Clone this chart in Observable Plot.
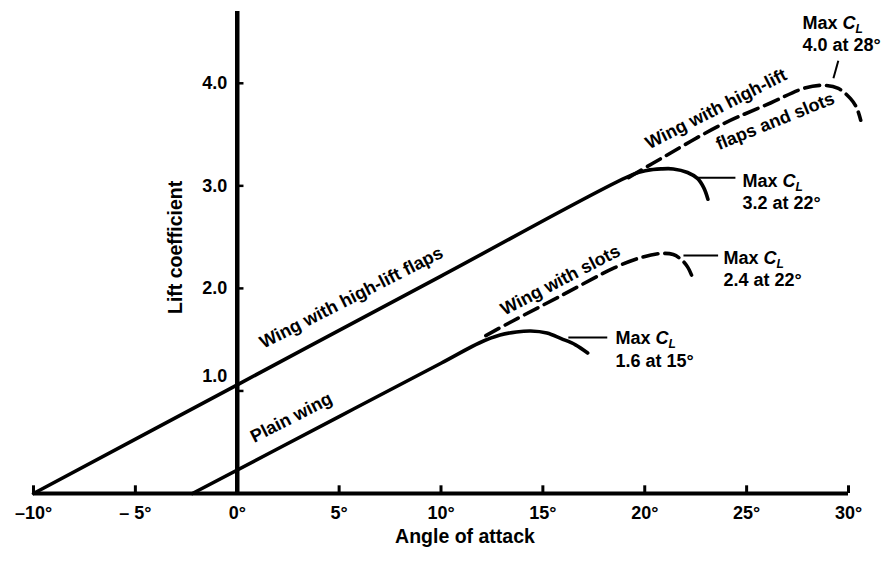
<!DOCTYPE html>
<html>
<head>
<meta charset="utf-8">
<script src="https://cdn.jsdelivr.net/npm/d3@7"></script>
<script src="https://cdn.jsdelivr.net/npm/@observablehq/plot@0.6"></script>
<style>
  html, body { margin: 0; padding: 0; background: #fff; }
  #chart svg { display: block; }
</style>
</head>
<body>
<div id="chart"></div>
<script>
// ---- Axis ticks ----
const xTicks = [-10, -5, 0, 5, 10, 15, 20, 25, 30];
const xTickLabels = ["–10°", "– 5°", "0°", "5°", "10°", "15°", "20°", "25°", "30°"];
const yTicks = [1, 2, 3, 4];
const yTickLabels = ["1.0", "2.0", "3.0", "4.0"];

// ---- Series (angle of attack in degrees, lift coefficient) ----
const plainAlpha = [-2.2, 5, 10, 11.9, 12.9, 13.7, 14.4, 15.2, 15.9, 16.6, 17.2];
const plainCL    = [0, 0.75, 1.27, 1.47, 1.545, 1.575, 1.585, 1.565, 1.51, 1.45, 1.37];

const flapsAlpha = [-10, 0, 10, 19.4, 20.1, 20.8, 21.4, 22.1, 22.6, 22.9, 23.1];
const flapsCL    = [0, 1.06, 2.12, 3.11, 3.15, 3.165, 3.165, 3.13, 3.07, 2.98, 2.87];

const slotsAlpha = [12.2, 13.5, 16.0, 18.5, 19.8, 20.8, 21.4, 21.8, 22.1, 22.4];
const slotsCL    = [1.54, 1.68, 1.94, 2.20, 2.30, 2.34, 2.33, 2.28, 2.21, 2.08];

const flapsSlotsAlpha = [19.2, 20.4, 23.7, 26.2, 27.8, 28.8, 29.5, 30.1, 30.4, 30.6];
const flapsSlotsCL    = [3.08, 3.22, 3.59, 3.81, 3.95, 3.98, 3.95, 3.85, 3.76, 3.64];

// ---- Curve labels ----
const curveLabels = ["Wing with high-lift flaps", "Plain wing", "Wing with slots", "Wing with high-lift", "flaps and slots"];
const curveLabelX = [5.6, 2.65, 15.86, 23.5, 26.4];
const curveLabelY = [1.91, 0.74, 2.08, 3.75, 3.63];
const curveLabelAngle = [-27, -27, -27.5, -27, -22];

// ---- Max CL annotations ----
const maxLabels = ["Max C_L\n1.6 at 15°", "Max C_L\n2.4 at 22°", "Max C_L\n3.2 at 22°", "Max C_L\n4.0 at 28°"];
const maxLabelX = [18.56, 23.86, 24.8, 27.74];
const maxLabelY = [1.415, 2.20, 2.95, 4.49];
const leaderX1 = [16.25, 21.9, 22.6, 29.26];
const leaderY1 = [1.52, 2.32, 3.08, 4.05];
const leaderX2 = [18.16, 23.6, 24.45, 29.5];
const leaderY2 = [1.52, 2.32, 3.08, 4.22];

const xTitle = "Angle of attack";
const yTitle = "Lift coefficient";

// ---- Build tables ----
const toPts = (xs, ys) => xs.map((x, i) => ({x, y: ys[i]}));
const plain = toPts(plainAlpha, plainCL);
const flaps = toPts(flapsAlpha, flapsCL);
const slots = toPts(slotsAlpha, slotsCL);
const flapsSlots = toPts(flapsSlotsAlpha, flapsSlotsCL);
const curveLabelData = curveLabels.map((t, i) => ({t, x: curveLabelX[i], y: curveLabelY[i], r: curveLabelAngle[i]}));
const maxData = maxLabels.map((t, i) => ({t, x: maxLabelX[i], y: maxLabelY[i]}));
const leaders = leaderX1.map((x1, i) => ({x1, y1: leaderY1[i], x2: leaderX2[i], y2: leaderY2[i]}));
const yTickData = yTicks.map((v, i) => ({v, t: yTickLabels[i]}));

const font = "'Liberation Sans', Arial, Helvetica, sans-serif";
const lineStyle = {x: "x", y: "y", stroke: "black", strokeWidth: 3.6, curve: "catmull-rom"};

const plot = Plot.plot({
  width: 887,
  height: 562,
  marginLeft: 33,
  marginRight: 39,
  marginTop: 11,
  marginBottom: 69,
  style: {fontFamily: font, fontWeight: "bold", fontSize: "18px", color: "black", background: "white"},
  x: {domain: [-10, 30]},
  y: {domain: [0, 4.7], axis: null},
  marks: [
    // x axis labels
    Plot.axisX({ticks: xTicks, tickFormat: d => xTickLabels[xTicks.indexOf(d)], tickSize: 0, tickPadding: 13, label: null, fontSize: 18}),
    // axis lines
    Plot.ruleY([0], {x1: -10, x2: 30, stroke: "black", strokeWidth: 4}),
    Plot.ruleX([0], {y1: 0, y2: 4.7, stroke: "black", strokeWidth: 4.5}),
    // x tick marks (upward)
    Plot.ruleX(xTicks, {x: d => d, y1: 0, y2: 0.075, stroke: "black", strokeWidth: 3}),
    // y tick marks (to the right)
    Plot.ruleY(yTicks, {y: d => d, x1: 0, x2: 0.33, stroke: "black", strokeWidth: 2.5}),
    // y tick labels
    Plot.text(yTickData.filter(d => d.v !== 1), {x: 0, y: "v", text: "t", dx: -10, textAnchor: "end", fontSize: 18}),
    Plot.text(yTickData.filter(d => d.v === 1), {x: 0, y: "v", text: "t", dx: -10, dy: -15, textAnchor: "end", fontSize: 18}),
    // curves
    Plot.line(flaps, lineStyle),
    Plot.line(plain, lineStyle),
    Plot.line(slots, {...lineStyle, strokeDasharray: "15,7"}),
    Plot.line(flapsSlots, {...lineStyle, strokeDasharray: "15,7"}),
    // curve labels
    Plot.text(curveLabelData, {x: "x", y: "y", text: "t", rotate: "r", textAnchor: "middle", lineAnchor: "middle", fontSize: 18}),
    // leaders
    Plot.link(leaders, {x1: "x1", y1: "y1", x2: "x2", y2: "y2", stroke: "black", strokeWidth: 2}),
    // max annotations
    Plot.text(maxData, {x: "x", y: "y", text: "t", textAnchor: "start", lineAnchor: "middle", lineHeight: 1.25, fontSize: 18}),
    // axis titles
    Plot.text([xTitle], {frameAnchor: "bottom", text: d => d, dx: 24, dy: 49, fontSize: 19.5}),
    Plot.text([yTitle], {x: -3, y: 2.4, text: d => d, rotate: -90, fontSize: 19.5})
  ]
});

// Italic C with subscript L in "Max C_L"
plot.querySelectorAll("tspan, text").forEach(t => {
  if (t.childElementCount === 0 && t.textContent === "Max C_L") {
    t.textContent = "Max ";
    const ns = "http://www.w3.org/2000/svg";
    const c = document.createElementNS(ns, "tspan");
    c.setAttribute("font-style", "italic");
    c.textContent = "C";
    const l = document.createElementNS(ns, "tspan");
    l.setAttribute("font-style", "italic");
    l.setAttribute("font-size", "12");
    l.setAttribute("baseline-shift", "-4");
    l.textContent = "L";
    t.appendChild(c);
    t.appendChild(l);
  }
});

document.getElementById("chart").appendChild(plot);
</script>
</body>
</html>
